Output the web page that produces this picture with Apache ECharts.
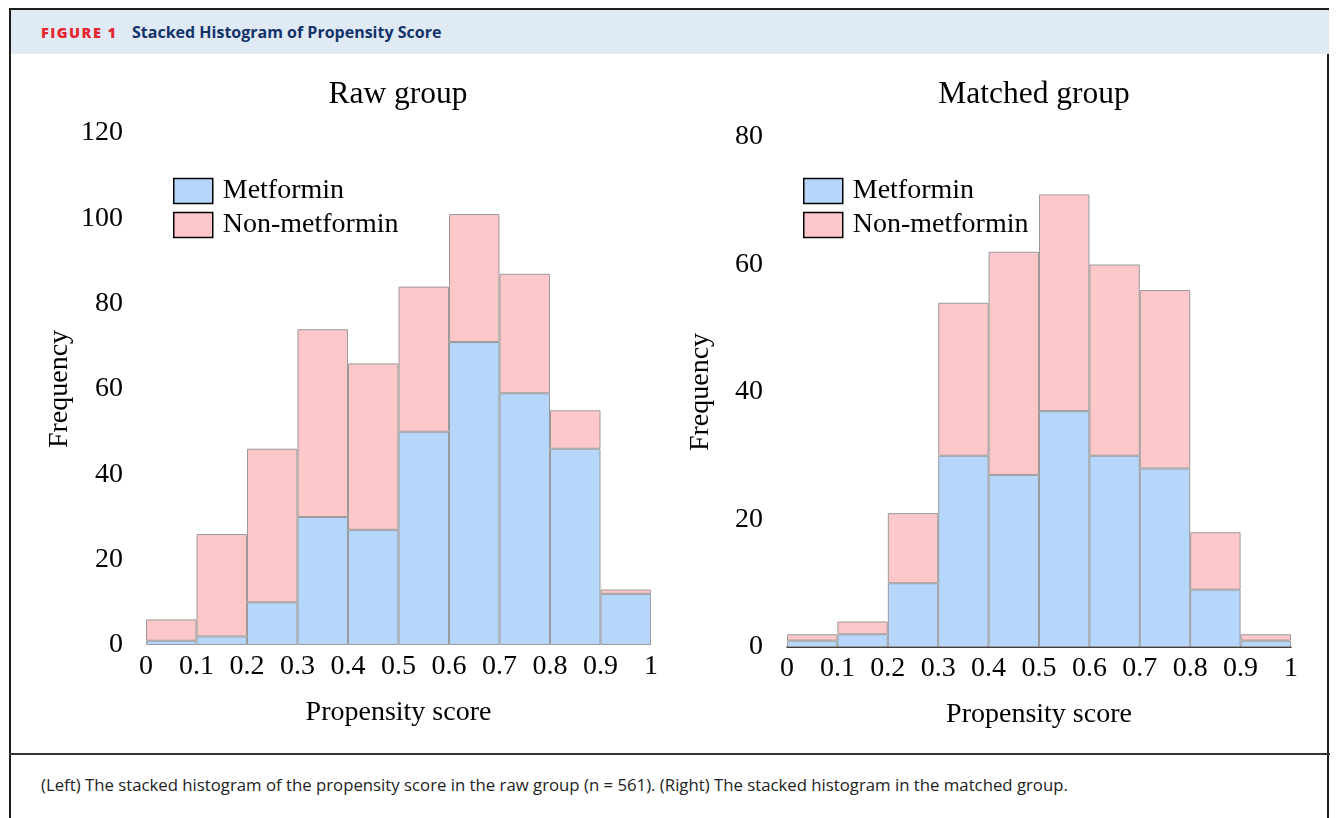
<!DOCTYPE html>
<html>
<head>
<meta charset="utf-8">
<script src="https://cdn.jsdelivr.net/npm/echarts@6/dist/echarts.min.js"></script>
<style>
  body { margin: 0; background: #fff; width: 1337px; height: 818px; position: relative; overflow: hidden; }
  #frame { position: absolute; left: 9px; top: 8px; width: 1320px; height: 820px; border: 2px solid #1d1d1d; border-bottom: none; box-sizing: border-box; }
  #head { position: absolute; left: 11px; top: 10px; width: 1318px; height: 44px; background: #dfeaf5; }
  #head .fig { position: absolute; left: 30px; top: 13px; font: 800 14.5px "Open Sans", sans-serif; color: #e5262f; letter-spacing: 1.5px; }
  #head .ttl { position: absolute; left: 121px; top: 11px; font: bold 16px "Open Sans", sans-serif; color: #13336a; }
  #rule { position: absolute; left: 9px; top: 753px; width: 1321px; height: 2px; background: #333; }
  #cap { position: absolute; left: 41px; top: 773px; font: 16.75px "Open Sans", sans-serif; color: #222; white-space: nowrap; }
  #chart { position: absolute; left: 0; top: 0; width: 1337px; height: 750px; }
</style>
</head>
<body>
<div id="frame"></div>
<div id="head"><span class="fig">FIGURE 1</span><span class="ttl">Stacked Histogram of Propensity Score</span></div>
<div id="rule"></div>
<div id="cap">(Left) The stacked histogram of the propensity score in the raw group (n = 561). (Right) The stacked histogram in the matched group.</div>
<div id="chart"></div>
<script>
// bins 0-0.1 ... 0.9-1
const bins = ['0-0.1', '0.1-0.2', '0.2-0.3', '0.3-0.4', '0.4-0.5', '0.5-0.6', '0.6-0.7', '0.7-0.8', '0.8-0.9', '0.9-1']
const rawMetformin = [1, 2, 10, 30, 27, 50, 71, 59, 46, 12]
const rawNonMetformin = [5, 24, 36, 44, 39, 34, 30, 28, 9, 1]
const matchedMetformin = [1, 2, 10, 30, 27, 37, 30, 28, 9, 1]
const matchedNonMetformin = [1, 2, 11, 24, 35, 34, 30, 28, 9, 1]

const serif = '"Liberation Serif", "Times New Roman", serif'
const fs = 28
const blue = '#b6d6fb'
const pink = '#fec8ca'

const grids = [
  { left: 146, top: 133, width: 505, height: 512 },
  { left: 787, top: 137, width: 504, height: 510 }
]

let chart = echarts.init(document.getElementById('chart'))

const xCat = (i) => ({
  type: 'category', gridIndex: i, data: bins, show: false, position: 'top'
})
const xVal = (i, lineShow) => ({
  type: 'value', gridIndex: i, position: 'bottom', min: 0, max: 1, interval: 0.1,
  name: 'Propensity score', nameLocation: 'middle', nameGap: 54,
  nameTextStyle: { fontFamily: serif, fontSize: fs, color: '#000' },
  axisLine: { show: lineShow, lineStyle: { color: '#000', width: 1.5 } },
  axisTick: { show: false },
  splitLine: { show: false },
  axisLabel: { fontFamily: serif, fontSize: fs, color: '#000', margin: 8,
    formatter: v => String(+v.toFixed(1)) }
})
const yVal = (i, max, margin) => ({
  type: 'value', gridIndex: i, min: 0, max: max, interval: 20,
  name: 'Frequency', nameLocation: 'middle', nameRotate: 90, nameGap: 72,
  nameTextStyle: { fontFamily: serif, fontSize: fs, color: '#000' },
  axisLine: { show: false }, axisTick: { show: false }, splitLine: { show: false },
  axisLabel: { fontFamily: serif, fontSize: fs, color: '#000', margin: margin }
})
const bar = (name, data, i, color, stack) => ({
  name: name, type: 'bar', stack: stack, data: data,
  xAxisIndex: i * 2, yAxisIndex: i,
  barCategoryGap: 0,
  itemStyle: { color: color, borderColor: '#9a9a9a', borderWidth: 1 },
  emphasis: { disabled: true }
})
const legend = (left) => ({
  left: left, top: 177, padding: 0, orient: 'vertical', icon: 'rect',
  itemWidth: 39, itemHeight: 25, itemGap: 6,
  itemStyle: { borderColor: '#000', borderWidth: 1.5 },
  textStyle: { fontFamily: serif, fontSize: fs, color: '#000', padding: [0, 0, 0, 5] },
  data: ['Metformin', 'Non-metformin'],
  selectedMode: false
})

option = {
  animation: false,
  title: [
    { text: 'Raw group', left: 393, top: 74, textAlign: 'center',
      textStyle: { fontFamily: serif, fontSize: 31.5, fontWeight: 'normal', color: '#000' } },
    { text: 'Matched group', left: 1029, top: 74, textAlign: 'center',
      textStyle: { fontFamily: serif, fontSize: 31.5, fontWeight: 'normal', color: '#000' } }
  ],
  legend: [legend(173), legend(803)],
  grid: grids,
  xAxis: [xCat(0), xVal(0, false), xCat(1), xVal(1, true)],
  yAxis: [yVal(0, 120, 23), yVal(1, 80, 24)],
  series: [
    bar('Metformin', rawMetformin, 0, blue, 'raw'),
    bar('Non-metformin', rawNonMetformin, 0, pink, 'raw'),
    bar('Metformin', matchedMetformin, 1, blue, 'matched'),
    bar('Non-metformin', matchedNonMetformin, 1, pink, 'matched')
  ]
}
chart.setOption(option)
</script>
</body>
</html>
